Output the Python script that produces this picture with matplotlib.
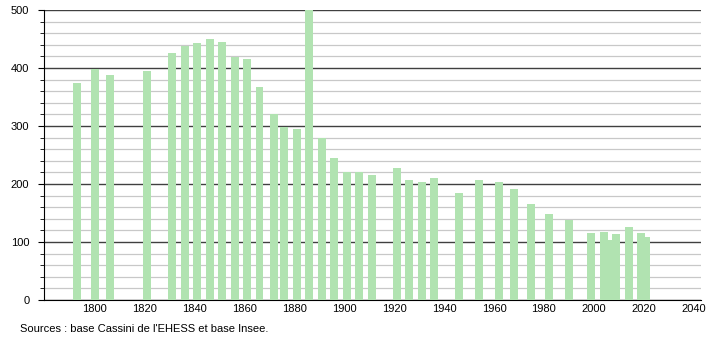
import numpy as np
import matplotlib
matplotlib.use("Agg")
import matplotlib.pyplot as plt
from matplotlib.ticker import MultipleLocator

plt.rcParams["font.family"] = ["Liberation Sans", "DejaVu Sans"]

# ── population by census year ───────────────────────────────────────────────
years = [1793, 1800, 1806, 1821, 1831, 1836, 1841, 1846, 1851, 1856,
         1861, 1866, 1872, 1876, 1881, 1886, 1891, 1896, 1901, 1906,
         1911, 1921, 1926, 1931, 1936, 1946, 1954, 1962, 1968, 1975,
         1982, 1990, 1999, 2004, 2006, 2009, 2014, 2019, 2021]
population = [374, 398, 388, 395, 426, 438, 443, 450, 445, 419,
              416, 367, 321, 298, 295, 500, 279, 245, 221, 220,
              215, 228, 207, 203, 210, 184, 207, 203, 191, 165,
              148, 138, 115, 117, 103, 114, 126, 115, 108]

source_text = "Sources : base Cassini de l'EHESS et base Insee."

bar_color = "#b1e3b1"

fig = plt.figure(figsize=(7.1, 3.4), dpi=100)
ax = fig.add_axes([44 / 710, 40 / 340, 657 / 710, 290 / 340])

ax.bar(years, population, width=3.2, color=bar_color, zorder=3)

ax.set_xlim(1779.6, 2043)
ax.set_ylim(0, 500)

ax.xaxis.set_major_locator(MultipleLocator(20))
ax.set_xticks(np.arange(1800, 2041, 20))
ax.yaxis.set_major_locator(MultipleLocator(100))
ax.yaxis.set_minor_locator(MultipleLocator(20))

ax.grid(axis="y", which="minor", color="#c8c8c8", lw=0.9, zorder=0)
ax.grid(axis="y", which="major", color="#404040", lw=1.0, zorder=1)
ax.set_axisbelow(True)

for s in ("top", "right"):
    ax.spines[s].set_visible(False)
ax.spines["left"].set_color("black")
ax.spines["bottom"].set_color("black")

ax.tick_params(axis="x", length=0, pad=3, labelsize=8)
ax.tick_params(axis="y", which="major", length=4, pad=6.5, labelsize=8)
ax.tick_params(axis="y", which="minor", length=3)

fig.text(20 / 710, 1 - 329 / 340, source_text, fontsize=8,
         ha="left", va="center")

fig.savefig("out.png", dpi=100)
